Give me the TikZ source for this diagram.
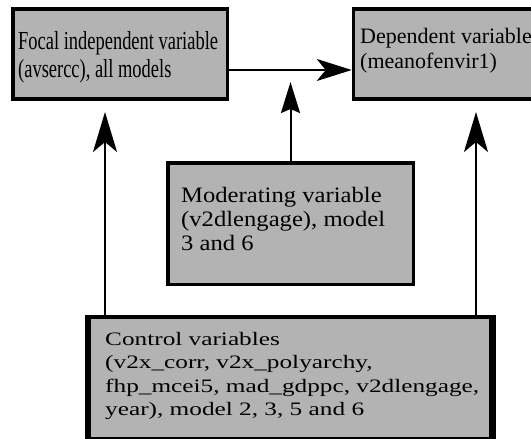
\documentclass[tikz,border=0pt]{standalone}
\usepackage{fontspec}
\usetikzlibrary{arrows.meta,calc}
\newfontfamily\fontA[FakeStretch=0.71]{Liberation Serif}
\newfontfamily\fontB{Liberation Serif}
\newfontfamily\fontC[FakeStretch=1.12]{Liberation Serif}
\newfontfamily\fontD[FakeStretch=1.33]{Liberation Serif}
\definecolor{boxgray}{RGB}{179,179,179}
\begin{document}
\begin{tikzpicture}[x=1pt,y=-1pt,
  varbox/.style={draw=black, fill=boxgray, rectangle, inner sep=0pt},
  vartext/.style={anchor=north west, inner sep=0pt, align=left, text=black},
  link/.style={line width=2pt, draw=black},
  bighead/.style={-{Stealth[length=35pt,width=22pt,inset=9pt]}},
  midhead/.style={-{Stealth[length=31pt,width=19pt,inset=4pt]}},
  sidehead/.style={-{Stealth[length=40pt,width=24pt,inset=10pt]}}]
\useasboundingbox (0,0) rectangle (531,439);
\clip (0,0) rectangle (531,439);
\fill[white] (0,0) rectangle (531,439);
% boxes
\node[varbox, line width=3.5pt, minimum width=214.5pt, minimum height=90pt] (focal) at (120,54) {};
\node[varbox, line width=3.5pt, minimum width=206.5pt, minimum height=90pt] (dep) at (456.75,54) {};
\node[varbox, line width=3.5pt, minimum width=245.5pt, minimum height=121.5pt] (mod) at (290.5,223.5) {};
\node[varbox, line width=4pt, minimum width=403pt, minimum height=122pt] (ctrl) at (290.5,378) {};
\draw[line width=6pt] ([xshift=1pt]ctrl.north west) -- ([xshift=1pt]ctrl.south west);
\draw[line width=7pt] ([xshift=-1.5pt]ctrl.north east) -- ([xshift=-1.5pt]ctrl.south east);
% texts
\node[vartext, font={\fontA\fontsize{26}{28}\selectfont}] (focaltxt) at (18,28.2)
  {\rule{0pt}{0.8em}Focal independent variable\\(avsercc), all models};
\node[vartext, font={\fontB\fontsize{22}{24.7}\selectfont}] (deptxt) at (360,25.7)
  {\rule{0pt}{0.8em}Dependent variable\\(meanofenvir1)};
\node[vartext, font={\fontC\fontsize{22}{23.7}\selectfont}] (modtxt) at (181,185.1)
  {\rule{0pt}{0.8em}Moderating variable\\(v2dlengage), model\\3 and 6};
\node[vartext, font={\fontD\fontsize{19}{23.4}\selectfont}] (ctrltxt) at (105,329.8)
  {\rule{0pt}{0.8em}Control variables\\(v2x\_corr, v2x\_polyarchy,\\fhp\_mcei5, mad\_gdppc, v2dlengage,\\year), model 2, 3, 5 and 6};
% connectors
\coordinate (tipM) at (290.5,82);
\coordinate (tipL) at (105,112);
\coordinate (tipR) at (476,112);
\draw[link, bighead] ($(focal.east)+(0,16)$) -- ($(dep.west)+(0,16)$);
\draw[link, midhead] (mod.north) -- (tipM);
\draw[link, sidehead] (ctrl.north -| tipL) -- (tipL);
\draw[link, sidehead] (ctrl.north -| tipR) -- (tipR);
\end{tikzpicture}
\end{document}
